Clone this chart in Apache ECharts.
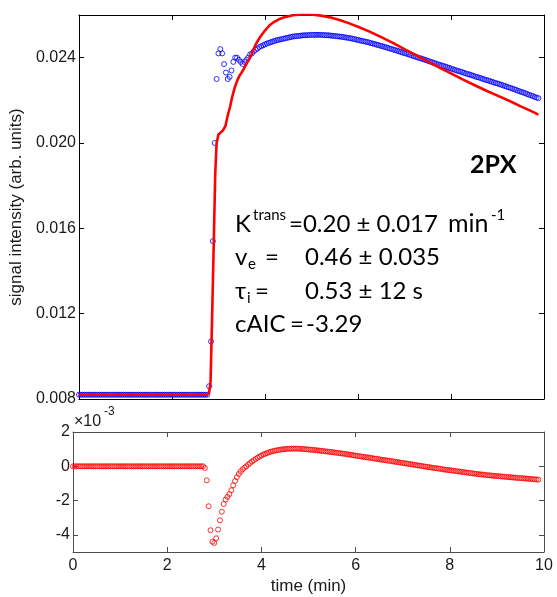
<!DOCTYPE html>
<html><head><meta charset="utf-8">
<script src="https://cdn.jsdelivr.net/npm/echarts@6/dist/echarts.min.js"></script>
<style>html,body{margin:0;padding:0;background:#fff}#c{width:557px;height:597px}</style>
</head><body><div id="c"></div>
<script>
// sample times (min)
const time = [
0,0.04,0.08,0.12,0.16,0.2,0.24,0.28,0.32,0.36,0.4,0.44,0.48,0.52,0.56,0.6,0.64,0.68,0.72,0.76,0.8,0.84,0.88,0.92,0.96,
1,1.04,1.08,1.12,1.16,1.2,1.24,1.28,1.32,1.36,1.4,1.44,1.48,1.52,1.56,1.6,1.64,1.68,1.72,1.76,1.8,1.84,1.88,1.92,1.96,
2,2.04,2.08,2.12,2.16,2.2,2.24,2.28,2.32,2.36,2.4,2.44,2.48,2.52,2.56,2.6,2.64,2.68,2.72,2.76,2.8,2.84,2.88,2.92,2.96,
3,3.04,3.08,3.12,3.16,3.2,3.24,3.28,3.32,3.36,3.4,3.44,3.48,3.52,3.56,3.6,3.64,3.68,3.72,3.76,3.8,3.84,3.88,3.92,3.96,
4,4.04,4.08,4.12,4.16,4.2,4.24,4.28,4.32,4.36,4.4,4.44,4.48,4.52,4.56,4.6,4.64,4.68,4.72,4.76,4.8,4.84,4.88,4.92,4.96,
5,5.04,5.08,5.12,5.16,5.2,5.24,5.28,5.32,5.36,5.4,5.44,5.48,5.52,5.56,5.6,5.64,5.68,5.72,5.76,5.8,5.84,5.88,5.92,5.96,
6,6.04,6.08,6.12,6.16,6.2,6.24,6.28,6.32,6.36,6.4,6.44,6.48,6.52,6.56,6.6,6.64,6.68,6.72,6.76,6.8,6.84,6.88,6.92,6.96,
7,7.04,7.08,7.12,7.16,7.2,7.24,7.28,7.32,7.36,7.4,7.44,7.48,7.52,7.56,7.6,7.64,7.68,7.72,7.76,7.8,7.84,7.88,7.92,7.96,
8,8.04,8.08,8.12,8.16,8.2,8.24,8.28,8.32,8.36,8.4,8.44,8.48,8.52,8.56,8.6,8.64,8.68,8.72,8.76,8.8,8.84,8.88,8.92,8.96,
9,9.04,9.08,9.12,9.16,9.2,9.24,9.28,9.32,9.36,9.4,9.44,9.48,9.52,9.56,9.6,9.64,9.68,9.72,9.76,9.8,9.84,9.88
];
// measured signal intensity (arb. units)
const signal = [
0.0082,0.0082,0.0082,0.0082,0.0082,0.0082,0.0082,0.0082,0.0082,0.0082,0.0082,0.0082,0.0082,0.0082,0.0082,0.0082,0.0082,0.0082,0.0082,0.0082,0.0082,0.0082,0.0082,0.0082,0.0082,
0.0082,0.0082,0.0082,0.0082,0.0082,0.0082,0.0082,0.0082,0.0082,0.0082,0.0082,0.0082,0.0082,0.0082,0.0082,0.0082,0.0082,0.0082,0.0082,0.0082,0.0082,0.0082,0.0082,0.0082,0.0082,
0.0082,0.0082,0.0082,0.0082,0.0082,0.0082,0.0082,0.0082,0.0082,0.0082,0.0082,0.0082,0.0082,0.0082,0.0082,0.0082,0.0082,0.0082,0.0082,0.0082,0.0086,0.0107,0.0154,0.0200,0.0230,
0.0242,0.0244,0.0242,0.0237,0.0233,0.0230,0.0231,0.0234,0.0238,0.0240,0.0240,0.0239,0.0238,0.0237,0.0238,0.0239,0.0240,0.02415,0.0242,0.0243,0.02437,0.02443,0.0245,0.02454,0.02458,
0.02462,0.02466,0.02469,0.02472,0.02475,0.02478,0.02481,0.02483,0.02485,0.02487,0.02489,0.02491,0.02493,0.02495,0.02497,0.02499,0.02500,0.02501,0.02502,0.02503,0.02504,0.02505,0.02505,0.02506,0.02506,
0.02507,0.02507,0.02507,0.02507,0.02507,0.02507,0.02506,0.02506,0.02505,0.02505,0.02504,0.02503,0.02502,0.02501,0.02500,0.02499,0.02498,0.02497,0.02495,0.02494,0.02492,0.02491,0.02489,0.02487,0.02485,
0.02483,0.02481,0.02479,0.02477,0.02475,0.02473,0.02471,0.02468,0.02466,0.02464,0.02461,0.02459,0.02456,0.02454,0.02451,0.02449,0.02446,0.02443,0.02441,0.02438,0.02435,0.02433,0.02430,0.02427,0.02424,
0.02421,0.02419,0.02416,0.02413,0.02410,0.02407,0.02404,0.02401,0.02398,0.02396,0.02393,0.02390,0.02387,0.02384,0.02381,0.02378,0.02375,0.02372,0.02369,0.02366,0.02364,0.02361,0.02358,0.02355,0.02352,
0.02349,0.02346,0.02343,0.02340,0.02337,0.02335,0.02332,0.02329,0.02326,0.02323,0.02321,0.02318,0.02315,0.02312,0.02309,0.02307,0.02304,0.02301,0.02298,0.02295,0.02293,0.02290,0.02287,0.02284,0.02281,
0.02279,0.02276,0.02273,0.02270,0.02267,0.02264,0.02261,0.02258,0.02255,0.02252,0.02249,0.02245,0.02242,0.02239,0.02236,0.02233,0.02229,0.02226,0.02223,0.02220,0.02216,0.02213,0.02210
];
// residual (fit - signal), units of 1e-3
const residual = [
0,0,0,0,0,0,0,0,0,0,0,0,0,0,0,0,0,0,0,0,0,0,0,0,0,
0,0,0,0,0,0,0,0,0,0,0,0,0,0,0,0,0,0,0,0,0,0,0,0,0,
0,0,0,0,0,0,0,0,0,0,0,0,0,0,0,0,0,0,0,0,-0.10,-0.82,-2.33,-3.73,-4.40,
-4.47,-4.20,-3.69,-3.15,-2.65,-2.20,-1.94,-1.78,-1.62,-1.40,-1.11,-0.86,-0.63,-0.45,-0.30,-0.18,-0.08,0.00,0.10,0.19,0.28,0.36,0.43,0.50,0.57,
0.63,0.69,0.73,0.77,0.81,0.85,0.88,0.91,0.93,0.95,0.97,0.99,1.00,1.01,1.02,1.02,1.03,1.03,1.03,1.03,1.02,1.02,1.01,1.00,0.99,
0.98,0.97,0.96,0.95,0.94,0.92,0.91,0.90,0.89,0.87,0.86,0.85,0.83,0.82,0.80,0.79,0.77,0.76,0.74,0.73,0.71,0.69,0.68,0.66,0.64,
0.62,0.60,0.59,0.57,0.55,0.54,0.52,0.51,0.49,0.47,0.45,0.44,0.42,0.40,0.38,0.37,0.35,0.33,0.32,0.30,0.28,0.26,0.25,0.23,0.21,
0.19,0.18,0.16,0.14,0.12,0.11,0.09,0.07,0.05,0.04,0.02,0.00,-0.02,-0.04,-0.05,-0.07,-0.09,-0.10,-0.12,-0.13,-0.15,-0.17,-0.19,-0.20,-0.22,
-0.23,-0.25,-0.26,-0.28,-0.29,-0.31,-0.32,-0.34,-0.35,-0.37,-0.38,-0.40,-0.41,-0.43,-0.44,-0.46,-0.47,-0.48,-0.49,-0.51,-0.52,-0.53,-0.54,-0.55,-0.56,
-0.57,-0.58,-0.59,-0.60,-0.61,-0.62,-0.63,-0.64,-0.65,-0.66,-0.67,-0.68,-0.69,-0.69,-0.70,-0.71,-0.72,-0.73,-0.74,-0.75,-0.76,-0.77,-0.78
];
// 2PX model fit curve
const fitTime = [0,2.76,2.80,2.83,2.86,2.90,2.93,2.96,3.00,3.05,3.10,3.15,3.20,3.25,3.30,3.35,3.40,3.45,3.50,3.55,3.60,3.65,3.70,3.80,3.90,4.00,4.10,4.20,4.30,4.40,4.60,4.80,5.00,5.20,5.40,5.60,5.80,6.00,6.25,6.50,6.75,7.00,7.25,7.50,7.75,8.00,8.25,8.50,8.75,9.00,9.25,9.50,9.75,9.88];
const fitValues = [0.0082,0.0082,0.0083,0.0088,0.0115,0.0154,0.0185,0.0200,0.0204,0.0205,0.0206,0.0208,0.0213,0.0217,0.0222,0.0226,0.0229,0.02315,0.0233,0.0235,0.0237,0.0239,0.0241,0.02462,0.02498,0.02527,0.02552,0.02568,0.0258,0.02588,0.02599,0.02603,0.02602,0.02597,0.02589,0.02577,0.02562,0.02545,0.02522,0.02496,0.02469,0.02440,0.02412,0.02383,0.02354,0.02326,0.02298,0.02272,0.02246,0.02222,0.02198,0.02172,0.02147,0.02133];
const xTicks = [0,2,4,6,8,10];
const yTicksTop = [0.008,0.012,0.016,0.020,0.024];
const yTicksBottom = [-4,-2,0,2];

const FONT = 'Liberation Sans, Arial, sans-serif';
const TXT = 'Lato, sans-serif';
const chart = echarts.init(document.getElementById('c'), null, {renderer:'canvas'});

function xAx(grid, pos, labels, color) {
  return {type:'value', gridIndex:grid, position:pos, min:0, max:10, interval:2,
    axisLine:{show:true, onZero:false, lineStyle:{color:color, width:1}},
    axisTick:{show:true, inside:true, length:5, customValues:xTicks, lineStyle:{color:color}},
    axisLabel:{show:labels, customValues:xTicks, color:'#1a1a1a', fontSize:16, fontFamily:FONT, margin:6},
    splitLine:{show:false}};
}
function yAx(grid, pos, labels, min, max, ticks, fmt, color) {
  return {type:'value', gridIndex:grid, position:pos, min:min, max:max,
    axisLine:{show:true, onZero:false, lineStyle:{color:color, width:1}},
    axisTick:{show:true, inside:true, length:5, customValues:ticks, lineStyle:{color:color}},
    axisLabel:{show:labels, customValues:ticks, formatter:fmt, color:'#1a1a1a', fontSize:16, fontFamily:FONT, margin:3},
    splitLine:{show:false}};
}

const xa = [xAx(0,'bottom',false,'#000'), xAx(0,'top',false,'#000'), xAx(1,'bottom',true,'#4d4d4d'), xAx(1,'top',false,'#4d4d4d')];
xa[2].name = 'time (min)'; xa[2].nameLocation = 'middle'; xa[2].nameGap = 26;
xa[2].nameTextStyle = {fontSize:17, fontFamily:FONT, color:'#1a1a1a'};
const ya = [
  yAx(0,'left',true,0.008,0.026,yTicksTop,v=>v.toFixed(3),'#000'),
  yAx(0,'right',false,0.008,0.026,yTicksTop,v=>v.toFixed(3),'#000'),
  yAx(1,'left',true,-5,2,yTicksBottom,v=>String(v),'#4d4d4d'),
  yAx(1,'right',false,-5,2,yTicksBottom,v=>String(v),'#4d4d4d')
];
ya[0].name = 'signal intensity (arb. units)'; ya[0].nameLocation='middle'; ya[0].nameGap=46;
ya[0].nameTextStyle = {fontSize:17, fontFamily:FONT, color:'#1a1a1a'};

function txt2(text, x, y, size, bold) {
  return {type:'text', x:x, y:y, z:100, style:{text:text, fill:'#000', font:(bold?'bold ':'')+size+'px '+TXT, verticalAlign:'middle', align:'left'}};
}

chart.setOption({
  animation:false,
  backgroundColor:'#fff',
  grid:[{left:73, top:15, width:471, height:384}, {left:73, top:432, width:471, height:120}],
  xAxis: xa,
  yAxis: ya,
  series:[
    {type:'scatter', xAxisIndex:0, yAxisIndex:0, data: time.map((t,i)=>[t, signal[i]]),
     symbol:'circle', symbolSize:5, itemStyle:{color:'rgba(0,0,0,0)', borderColor:'#0000ff', borderWidth:1}, z:2},
    {type:'line', xAxisIndex:0, yAxisIndex:0, data: fitTime.map((t,i)=>[t, fitValues[i]]),
     showSymbol:false, smooth:false, lineStyle:{color:'#ff0000', width:2.6}, z:3},
    {type:'scatter', xAxisIndex:2, yAxisIndex:2, data: time.map((t,i)=>[t, residual[i]]),
     symbol:'circle', symbolSize:5, itemStyle:{color:'rgba(0,0,0,0)', borderColor:'#ff0000', borderWidth:1}, z:2}
  ],
  graphic:[
    txt2('2PX', 470, 165, 25, true),
    txt2('K', 235, 224, 24), txt2('trans', 253, 215, 15), txt2('=0.20 \u00b1 0.017', 289, 224, 24), txt2('min', 448, 224, 25), txt2('-1', 491, 215, 15),
    txt2('v', 235, 257, 24), txt2('e', 248, 264, 15), txt2('=', 265, 257, 24), txt2('0.46 \u00b1 0.035', 305, 257, 24),
    txt2('\u03c4', 235, 291, 24), txt2('i', 247, 298, 15), txt2('=', 255, 291, 24), txt2('0.53 \u00b1 12 s', 305, 291, 24),
    txt2('cAIC', 235, 324, 24), txt2('=', 290, 324, 24), txt2('-3.29', 306, 324, 24),
    {type:'text', x:74, y:422, z:100, style:{text:'\u00d710', fill:'#1a1a1a', font:'16px '+FONT, verticalAlign:'middle'}},
    {type:'text', x:104, y:412, z:100, style:{text:'-3', fill:'#1a1a1a', font:'12px '+FONT, verticalAlign:'middle'}}
  ]
});
</script></body></html>
